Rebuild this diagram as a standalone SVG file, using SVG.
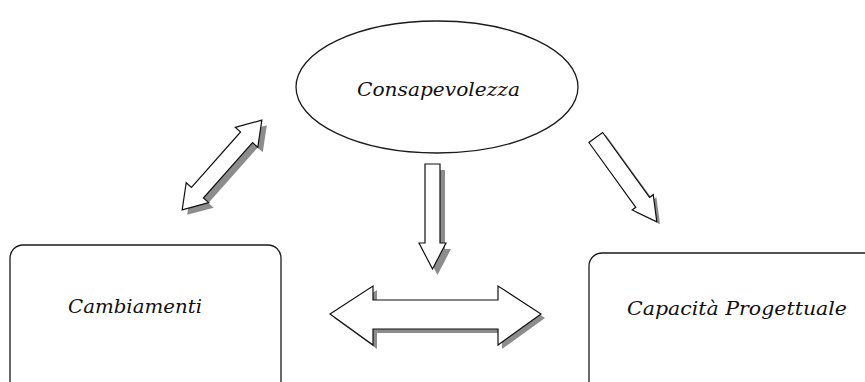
<svg xmlns="http://www.w3.org/2000/svg" xmlns:xlink="http://www.w3.org/1999/xlink" width="865" height="382" viewBox="0 0 865 382">
  <style>
    .node { fill: #ffffff; stroke: #1a1a1a; stroke-width: 1.3; }
    .label { font-family: "DejaVu Serif", "Liberation Serif", serif; font-style: italic; font-size: 19px; fill: #111111; }
    .arrow { fill: #ffffff; stroke: #111111; stroke-width: 1.2; stroke-linejoin: miter; }
    .shadow { fill: #8c8c8c; stroke: none; }
  </style>
  <defs>
    <!-- block arrow shapes, drawn once as shadow and once as outline -->
    <polygon id="dbl-diag" points="-60,0 -37,-15 -37,-8 37,-8 37,-15 60,0 37,15 37,8 -37,8 -37,15"/>
    <polygon id="down" points="425,164 440,164 440,243 446,243 432.5,269 419,243 425,243"/>
    <polygon id="dbl-horiz" points="330,314 373,286 373,300 498,300 498,286 541,314 498,345 498,329 373,329 373,345"/>
    <polygon id="diag-right" points="0,-8.5 80,-8.5 80,-13 104,0 80,13 80,8.5 0,8.5"/>
  </defs>

  <rect width="865" height="382" fill="#ffffff"/>

  <g id="node-consapevolezza">
    <ellipse class="node" cx="437" cy="87" rx="141" ry="66"/>
    <text class="label" x="357" y="96" textLength="163" lengthAdjust="spacingAndGlyphs">Consapevolezza</text>
  </g>

  <g id="node-cambiamenti">
    <rect class="node" x="10" y="245" width="271" height="160" rx="13" ry="13"/>
    <text class="label" x="68" y="313" textLength="134" lengthAdjust="spacingAndGlyphs">Cambiamenti</text>
  </g>

  <g id="node-capacita">
    <rect class="node" x="589" y="253" width="300" height="160" rx="13" ry="13"/>
    <text class="label" x="627" y="315" textLength="220" lengthAdjust="spacingAndGlyphs">Capacità Progettuale</text>
  </g>

  <g id="connectors">
    <!-- Cambiamenti <-> Consapevolezza -->
    <g transform="translate(227,170) rotate(-48.4)"><use xlink:href="#dbl-diag" class="shadow"/></g>
    <g transform="translate(222,165) rotate(-48.4)"><use xlink:href="#dbl-diag" class="arrow"/></g>

    <!-- Consapevolezza -> centre -->
    <use xlink:href="#down" class="shadow" transform="translate(5,6)"/>
    <use xlink:href="#down" class="arrow"/>

    <!-- Cambiamenti <-> Capacità Progettuale -->
    <use xlink:href="#dbl-horiz" class="shadow" transform="translate(4,4)"/>
    <use xlink:href="#dbl-horiz" class="arrow"/>

    <!-- Consapevolezza -> Capacità Progettuale -->
    <g transform="translate(599,140) rotate(54.1)"><use xlink:href="#diag-right" class="shadow"/></g>
    <g transform="translate(595.8,137.5) rotate(54.1)"><use xlink:href="#diag-right" class="arrow"/></g>
  </g>
</svg>
